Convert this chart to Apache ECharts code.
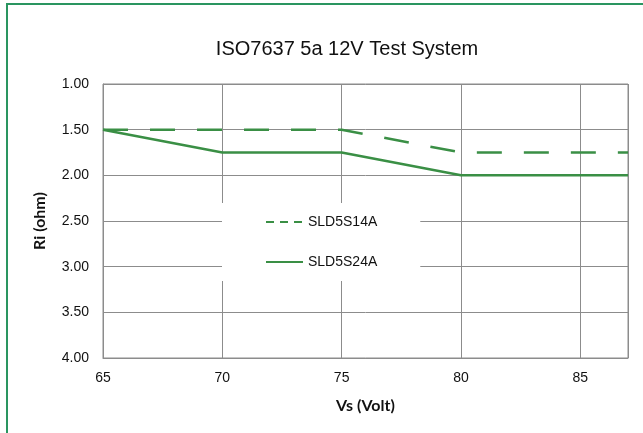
<!DOCTYPE html>
<html>
<head>
<meta charset="utf-8">
<script src="https://cdn.jsdelivr.net/npm/echarts@6/dist/echarts.min.js"></script>
<style>
  html, body { margin: 0; padding: 0; background: #fff; }
  #frame { position: absolute; left: 6px; top: 3px; width: 650px; height: 440px; border-left: 2px solid #2a9560; border-top: 2px solid #2a9560; box-sizing: border-box; }
  #container { position: absolute; left: 0; top: 0; width: 643px; height: 433px; }
</style>
</head>
<body>
<div id="frame"></div>
<div id="container"></div>
<script>
let voltage = [65, 70, 75, 80, 87];
let sld5s14a = [1.5, 1.5, 1.5, 1.75, 1.75];
let sld5s24a = [1.5, 1.75, 1.75, 2.0, 2.0];
let seriesNames = ['SLD5S14A', 'SLD5S24A'];

let dom = document.getElementById("container");
let myChart = echarts.init(dom);
let lineColor = '#3a8f45';
let gridColor = '#8c8c8c';

function pairs(ys) {
    return voltage.map(function (v, i) { return [v, ys[i]]; });
}

option = {
    animation: false,
    title: {
        text: 'ISO7637 5a 12V Test System',
        left: 342,
        top: 34,
        textAlign: 'center',
        textStyle: {
            fontFamily: 'Liberation Sans',
            fontSize: 20,
            fontWeight: 'normal',
            color: '#111'
        }
    },
    legend: {
        orient: 'vertical',
        left: 222,
        top: 203,
        backgroundColor: '#fff',
        padding: [12, 43, 12, 43],
        itemGap: 26,
        itemWidth: 37,
        itemHeight: 14,
        itemStyle: { opacity: 0, borderWidth: 0 },
        textStyle: { fontFamily: 'Liberation Sans', fontSize: 14, color: '#111' },
        data: [
            { name: seriesNames[0], lineStyle: { type: [8, 6], width: 2 } },
            { name: seriesNames[1], lineStyle: { width: 2 } }
        ]
    },
    grid: {
        left: 103,
        top: 84,
        right: 15,
        bottom: 75,
        show: true,
        borderColor: gridColor,
        borderWidth: 1
    },
    xAxis: {
        type: 'value',
        min: 65,
        max: 87,
        interval: 5,
        name: 'Vs (Volt)',
        nameLocation: 'middle',
        nameGap: 40,
        nameTextStyle: { fontFamily: 'Lato', fontWeight: 'bold', fontSize: 16, color: '#111' },
        axisLine: { show: true, lineStyle: { color: gridColor } },
        axisTick: { show: false },
        axisLabel: { showMaxLabel: false, fontFamily: 'Liberation Sans', fontSize: 14, color: '#111', margin: 13 },
        splitLine: { show: true, lineStyle: { color: gridColor } }
    },
    yAxis: {
        type: 'value',
        inverse: true,
        min: 1,
        max: 4,
        interval: 0.5,
        name: 'Ri (ohm)',
        nameLocation: 'middle',
        nameGap: 55,
        nameTextStyle: { fontFamily: 'Lato', fontWeight: 'bold', fontSize: 16, color: '#111' },
        axisLine: { show: true, lineStyle: { color: gridColor } },
        axisTick: { show: false },
        axisLabel: {
            fontFamily: 'Liberation Sans', fontSize: 14, color: '#111', margin: 14,
            formatter: function (v) { return v.toFixed(2); }
        },
        splitLine: { show: true, lineStyle: { color: gridColor } }
    },
    series: [
        {
            name: seriesNames[0],
            type: 'line',
            symbol: 'none',
            data: pairs(sld5s14a),
            lineStyle: { color: lineColor, width: 2.5, type: [25, 22] },
            itemStyle: { color: lineColor },
            z: 3
        },
        {
            name: seriesNames[1],
            type: 'line',
            symbol: 'none',
            data: pairs(sld5s24a),
            lineStyle: { color: lineColor, width: 2.5 },
            itemStyle: { color: lineColor },
            z: 3
        }
    ]
};
if (option && typeof option === "object") {
    myChart.setOption(option, true);
}
</script>
</body>
</html>
